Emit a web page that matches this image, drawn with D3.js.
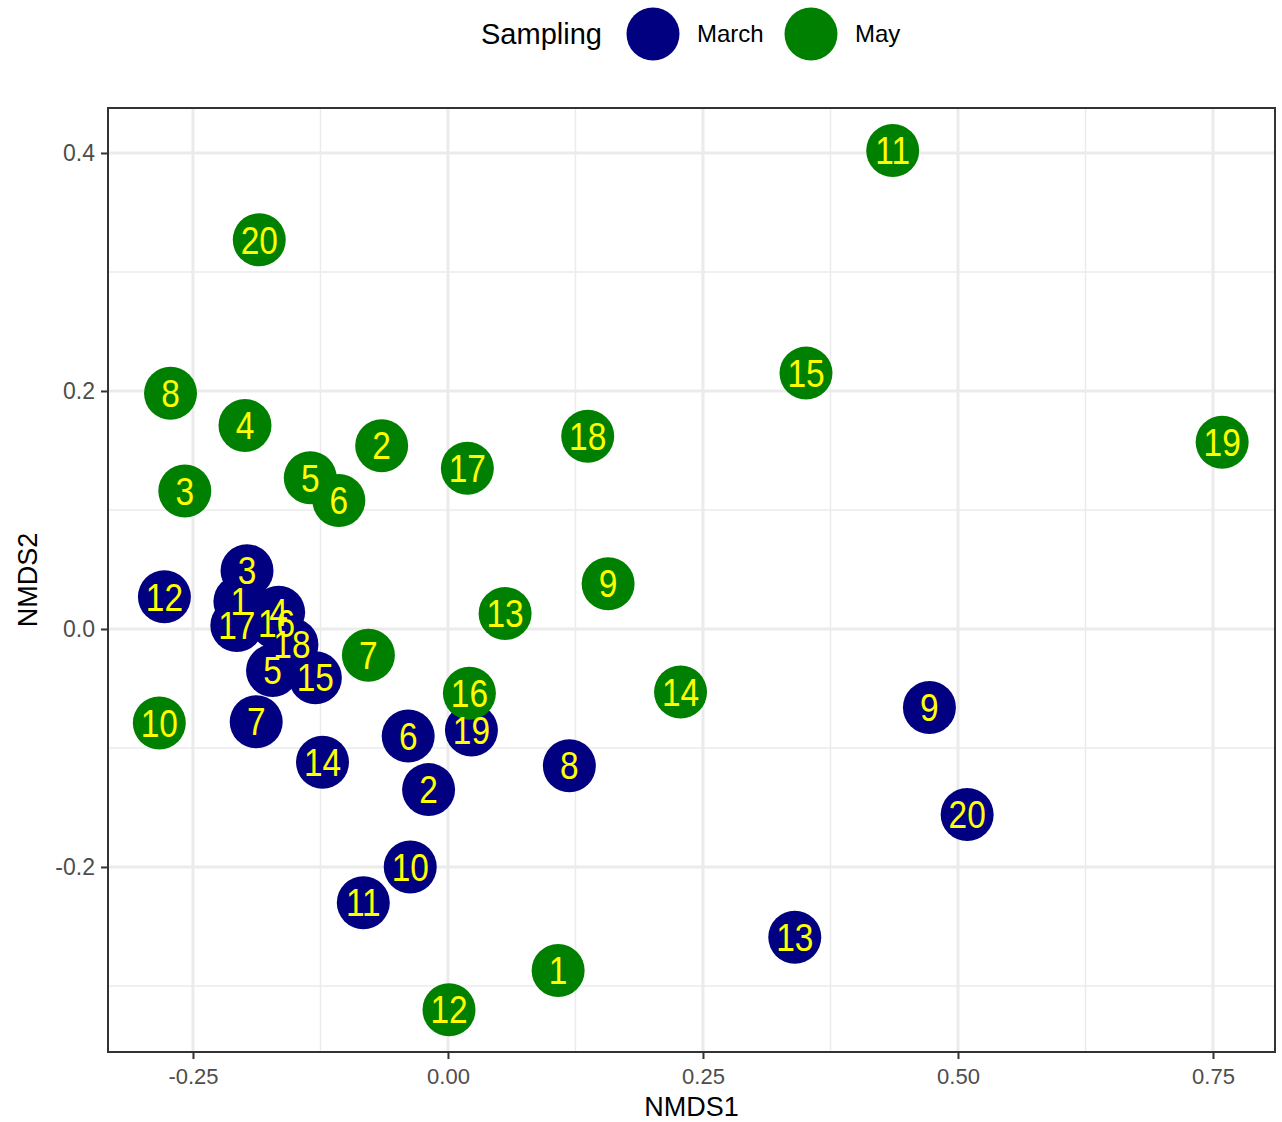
<!DOCTYPE html>
<html lang="en">
<head>
  <meta charset="UTF-8" />
  <title>NMDS ordination</title>
  <script src="https://d3js.org/d3.v7.min.js"></script>
  <style>
    body, html { margin: 0; padding: 0; background: #fff; }
    svg { display: block; font-family: "Liberation Sans", Arial, Helvetica, sans-serif; }
  </style>
</head>
<body>
  <svg id="chart" width="1282" height="1122"></svg>
  <script>
    // Sample ids and NMDS scores per sampling campaign
    const marchIds = [1, 2, 3, 4, 5, 6, 7, 8, 9, 10, 11, 12, 13, 14, 15, 16, 17, 18, 19, 20];
    const marchX = [-0.204, -0.019, -0.197, -0.166, -0.172, -0.039, -0.188, 0.119, 0.472, -0.037,
                    -0.083, -0.278, 0.340, -0.123, -0.130, -0.168, -0.207, -0.153, 0.023, 0.509];
    const marchY = [0.023, -0.135, 0.049, 0.014, -0.035, -0.090, -0.078, -0.115, -0.066, -0.200,
                    -0.230, 0.027, -0.259, -0.112, -0.041, 0.005, 0.003, -0.013, -0.085, -0.156];

    const mayIds = [1, 2, 3, 4, 5, 6, 7, 8, 9, 10, 11, 12, 13, 14, 15, 16, 17, 18, 19, 20];
    const mayX = [0.108, -0.065, -0.258, -0.199, -0.135, -0.107, -0.078, -0.272, 0.157, -0.283,
                  0.436, 0.001, 0.056, 0.228, 0.351, 0.021, 0.019, 0.137, 0.759, -0.185];
    const mayY = [-0.287, 0.154, 0.116, 0.171, 0.127, 0.108, -0.022, 0.198, 0.038, -0.079,
                  0.402, -0.320, 0.013, -0.053, 0.215, -0.054, 0.135, 0.162, 0.157, 0.327];

    const groups = ["March", "May"];
    const groupColors = ["#000080", "#008000"];
    const xTicks = [-0.25, 0, 0.25, 0.5, 0.75];
    const yTicks = [-0.2, 0, 0.2, 0.4];
    const xMinor = [-0.125, 0.125, 0.375, 0.625];
    const yMinor = [-0.3, -0.1, 0.1, 0.3];

    const points = [];
    marchIds.forEach((id, i) => points.push({ id, x: marchX[i], y: marchY[i], g: "March" }));
    mayIds.forEach((id, i) => points.push({ id, x: mayX[i], y: mayY[i], g: "May" }));

    const panel = { left: 108, right: 1275, top: 108, bottom: 1052 };
    const x = d3.scaleLinear().domain([-0.3333, 0.8108]).range([panel.left, panel.right]);
    const y = d3.scaleLinear().domain([-0.3555, 0.4378]).range([panel.bottom, panel.top]);
    const color = d3.scaleOrdinal().domain(groups).range(groupColors);

    // R-style labels: plain hyphen minus
    const fmt2 = d => d3.format(".2f")(d).replace("−", "-");
    const fmt1 = d => d3.format(".1f")(d).replace("−", "-");

    const svg = d3.select("#chart");

    // grid
    const grid = svg.append("g");
    grid.selectAll(".minx").data(xMinor).join("line")
      .attr("x1", d => x(d)).attr("x2", d => x(d))
      .attr("y1", panel.top).attr("y2", panel.bottom)
      .attr("stroke", "#ebebeb").attr("stroke-width", 1.5);
    grid.selectAll(".miny").data(yMinor).join("line")
      .attr("y1", d => y(d)).attr("y2", d => y(d))
      .attr("x1", panel.left).attr("x2", panel.right)
      .attr("stroke", "#ebebeb").attr("stroke-width", 1.5);
    grid.selectAll(".majx").data(xTicks).join("line")
      .attr("x1", d => x(d)).attr("x2", d => x(d))
      .attr("y1", panel.top).attr("y2", panel.bottom)
      .attr("stroke", "#ebebeb").attr("stroke-width", 3);
    grid.selectAll(".majy").data(yTicks).join("line")
      .attr("y1", d => y(d)).attr("y2", d => y(d))
      .attr("x1", panel.left).attr("x2", panel.right)
      .attr("stroke", "#ebebeb").attr("stroke-width", 3);

    // axes
    const xAxis = svg.append("g")
      .attr("transform", `translate(0,${panel.bottom})`)
      .call(d3.axisBottom(x).tickValues(xTicks).tickFormat(fmt2).tickSize(7).tickPadding(5));
    const yAxis = svg.append("g")
      .attr("transform", `translate(${panel.left},0)`)
      .call(d3.axisLeft(y).tickValues(yTicks).tickFormat(fmt1).tickSize(7).tickPadding(6));
    [xAxis, yAxis].forEach(a => {
      a.select(".domain").remove();
      a.selectAll(".tick line").attr("stroke", "#333").attr("stroke-width", 2);
      a.selectAll(".tick text").attr("fill", "#4d4d4d")
        .attr("font-family", "Liberation Sans, Arial, sans-serif");
    });
    xAxis.selectAll(".tick text").attr("font-size", 22).attr("dy", "0.9em");
    yAxis.selectAll(".tick text").attr("font-size", 23);

    // points
    svg.append("g").selectAll("circle").data(points).join("circle")
      .attr("cx", d => x(d.x)).attr("cy", d => y(d.y))
      .attr("r", 26.5).attr("fill", d => color(d.g));

    // labels
    svg.append("g").selectAll("text").data(points).join("text")
      .attr("transform", d => `translate(${x(d.x)},${y(d.y)}) scale(0.88,1)`)
      .attr("text-anchor", "middle").attr("dy", "0.36em")
      .attr("font-size", 38).attr("fill", "#ffff00")
      .text(d => d.id);

    // panel border
    svg.append("rect")
      .attr("x", panel.left).attr("y", panel.top)
      .attr("width", panel.right - panel.left).attr("height", panel.bottom - panel.top)
      .attr("fill", "none").attr("stroke", "#333").attr("stroke-width", 2);

    // axis titles
    svg.append("text")
      .attr("x", (panel.left + panel.right) / 2).attr("y", 1116)
      .attr("text-anchor", "middle").attr("font-size", 27).text("NMDS1");
    svg.append("text")
      .attr("transform", `translate(37,${(panel.top + panel.bottom) / 2}) rotate(-90)`)
      .attr("text-anchor", "middle").attr("font-size", 27).text("NMDS2");

    // legend
    const legend = svg.append("g");
    legend.append("text")
      .attr("x", 481).attr("y", 44)
      .attr("font-size", 29).text("Sampling");
    const legendX = [653, 811];
    groups.forEach((g, i) => {
      legend.append("circle").attr("cx", legendX[i]).attr("cy", 34).attr("r", 26.5).attr("fill", color(g));
      legend.append("text")
        .attr("x", legendX[i] + 44).attr("y", 42)
        .attr("font-size", 24).text(g);
    });
  </script>
</body>
</html>
